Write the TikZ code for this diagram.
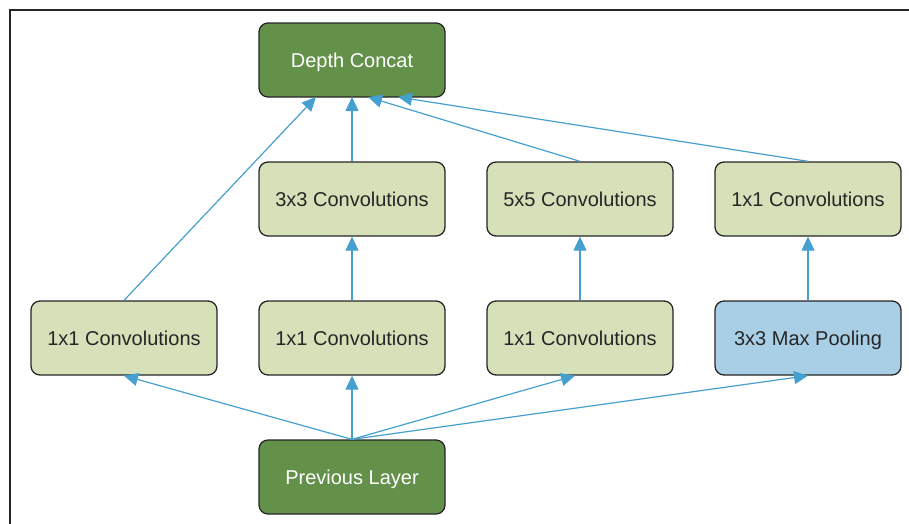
\documentclass[tikz,border=0pt]{standalone}
\usepackage{fontspec}
\setmainfont{Liberation Sans}
\usetikzlibrary{arrows.meta}
\definecolor{dkgreen}{HTML}{64914A}
\definecolor{ltgreen}{HTML}{D6E1BA}
\definecolor{ltblue}{HTML}{A8CFE6}
\definecolor{arrblue}{HTML}{45A0D0}
\tikzset{
  box/.style={draw=black!85, line width=1.3pt, rounded corners=9pt, minimum width=186pt, minimum height=74pt, inner sep=0pt, text height=19.5pt, text depth=4pt, font=\fontsize{20}{23}\selectfont, text=black!85},
  convbox/.style={box, fill=ltgreen},
  poolbox/.style={box, fill=ltblue},
  darkbox/.style={box, fill=dkgreen, text=white},
  conn/.style={draw=arrblue, line width=1.2pt, -{Triangle[length=14pt,width=13pt]}},
}
\begin{document}
\begin{tikzpicture}[x=1pt,y=-1pt]
\useasboundingbox (0,0) rectangle (909,523);
\begin{scope}
\clip (0,0) rectangle (909,523);
\draw[line width=1.5pt, black!85] (10,540) -- (10,10) -- (930,10);
\end{scope}
\node[darkbox] (concat) at (352,60) {Depth Concat};
\node[convbox] (c3) at (352,199) {3x3 Convolutions};
\node[convbox] (c5) at (580,199) {5x5 Convolutions};
\node[convbox] (c1p) at (808,199) {1x1 Convolutions};
\node[convbox] (a1) at (124,338) {1x1 Convolutions};
\node[convbox] (a2) at (352,338) {1x1 Convolutions};
\node[convbox] (a3) at (580,338) {1x1 Convolutions};
\node[poolbox] (pool) at (808,338) {3x3 Max Pooling};
\node[darkbox] (prev) at (352,477) {Previous Layer};
\coordinate (t1) at (316,97);
\coordinate (t2) at (352,97);
\coordinate (t3) at (368,97);
\coordinate (t4) at (398,97);
\draw[conn] (a1.north) -- (t1);
\draw[conn] (c3.north) -- (t2);
\draw[conn] (c5.north) -- (t3);
\draw[conn] (c1p.north) -- (t4);
\draw[conn] (a2.north) -- (c3.south);
\draw[conn] (a3.north) -- (c5.south);
\draw[conn] (pool.north) -- (c1p.south);
\draw[conn] (prev.north) -- (a1.south);
\draw[conn] (prev.north) -- (a2.south);
\draw[conn] (prev.north) -- ([xshift=-5pt]a3.south);
\draw[conn] (prev.north) -- (pool.south);
\end{tikzpicture}
\end{document}
